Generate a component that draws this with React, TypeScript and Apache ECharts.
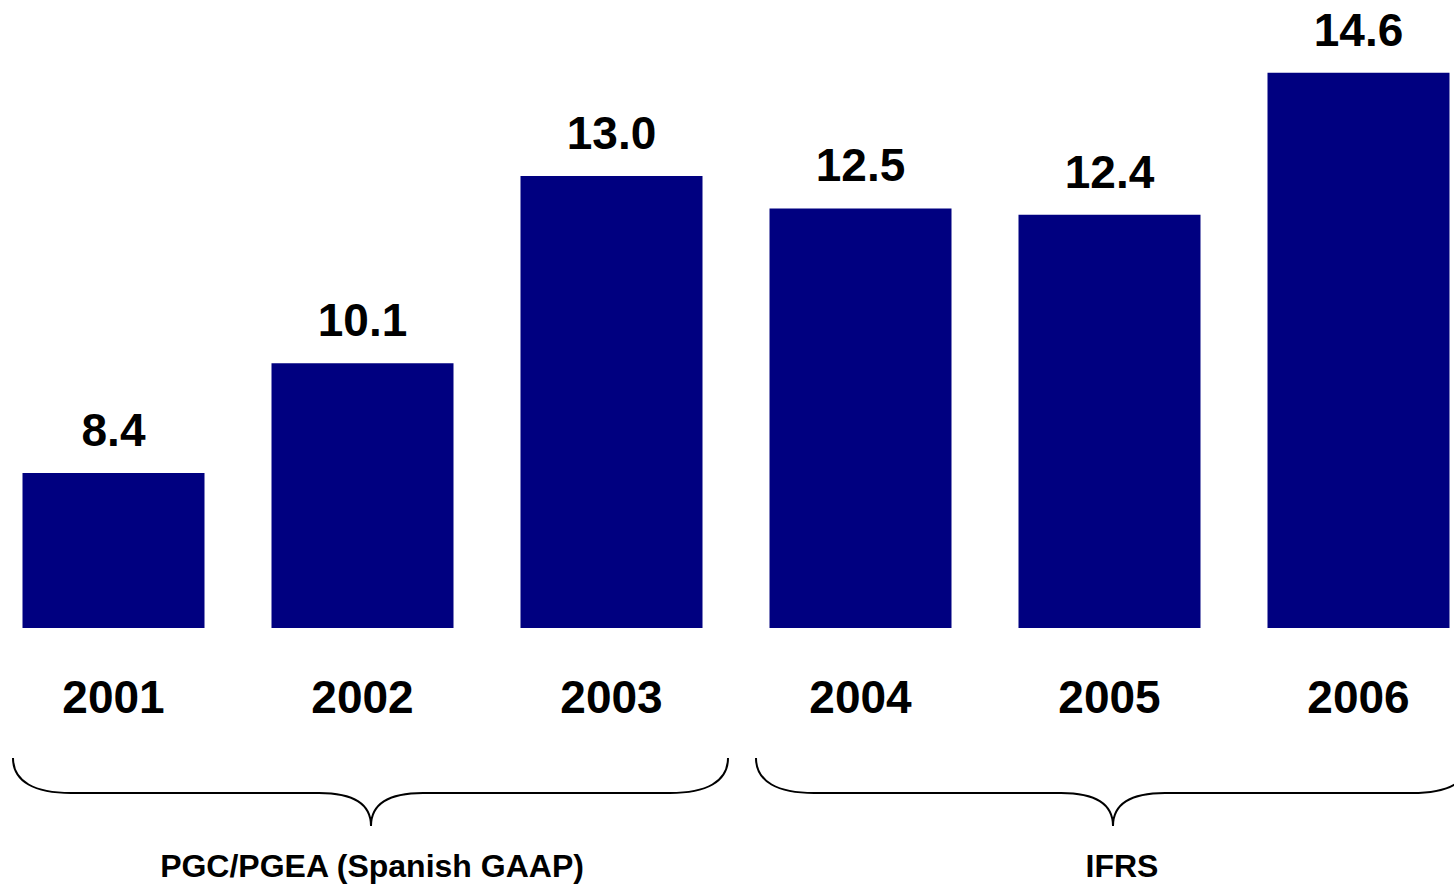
import React, { useEffect, useRef } from "react";
import * as echarts from "echarts";

const categories = ["2001", "2002", "2003", "2004", "2005", "2006"];
const values = [8.4, 10.1, 13.0, 12.5, 12.4, 14.6];
const groupLabels = ["PGC/PGEA (Spanish GAAP)", "IFRS"];

const FONT = "'Liberation Sans', Arial, sans-serif";
// the chart canvas starts 11px left of the page so the category band overflows like the original
const OFFSET = 11;

function bracePath(x0: number, x1: number, mid: number, yTop: number, yLine: number, yTip: number) {
  return (
    `M ${x0} ${yTop} C ${x0} ${yTop + 24} ${x0 + 22} ${yLine} ${x0 + 58} ${yLine} ` +
    `L ${mid - 52} ${yLine} C ${mid - 18} ${yLine} ${mid} ${yLine + 10} ${mid} ${yTip} ` +
    `C ${mid} ${yLine + 10} ${mid + 18} ${yLine} ${mid + 52} ${yLine} ` +
    `L ${x1 - 58} ${yLine} C ${x1 - 22} ${yLine} ${x1} ${yTop + 24} ${x1} ${yTop}`
  );
}

export default function App() {
  const ref = useRef<HTMLDivElement>(null);
  useEffect(() => {
    if (!ref.current) return;
    echarts.graphic.registerShape(
      "braceL",
      echarts.graphic.extendPath(bracePath(13, 728, 371, 758, 793, 826), {})
    );
    echarts.graphic.registerShape(
      "braceR",
      echarts.graphic.extendPath(bracePath(756, 1470, 1113, 758, 793, 826), {})
    );
    const chart = echarts.init(ref.current, null, { renderer: "svg" });
    chart.setOption({
      animation: false,
      backgroundColor: "#ffffff",
      grid: { left: 0, right: 0, top: 47, bottom: 257, containLabel: false },
      xAxis: {
        type: "category",
        data: categories,
        axisLine: { show: false },
        axisTick: { show: false },
        axisLabel: {
          color: "#000",
          fontFamily: FONT,
          fontWeight: "bold",
          fontSize: 46,
          margin: 46,
        },
      },
      yAxis: {
        type: "value",
        min: 6,
        max: 15,
        show: false,
        splitLine: { show: false },
      },
      series: [
        {
          type: "bar",
          data: values,
          barWidth: 182,
          itemStyle: { color: "#000080" },
          label: {
            show: true,
            position: "top",
            distance: 20,
            color: "#000",
            fontFamily: FONT,
            fontWeight: "bold",
            fontSize: 46,
            formatter: (p: any) => Number(p.value).toFixed(1),
          },
        },
      ],
      graphic: [
        {
          type: "braceL",
          x: OFFSET,
          y: 0,
          style: { stroke: "#000", lineWidth: 2, fill: "none" },
        },
        {
          type: "braceR",
          x: OFFSET,
          y: 0,
          style: { stroke: "#000", lineWidth: 2, fill: "none" },
        },
        {
          type: "text",
          x: 372 + OFFSET,
          y: 866,
          style: {
            text: groupLabels[0],
            fill: "#000",
            font: `bold 32px ${FONT}`,
            textAlign: "center",
            textVerticalAlign: "middle",
          },
        },
        {
          type: "text",
          x: 1122 + OFFSET,
          y: 866,
          style: {
            text: groupLabels[1],
            fill: "#000",
            font: `bold 32px ${FONT}`,
            textAlign: "center",
            textVerticalAlign: "middle",
          },
        },
      ],
    });
    return () => chart.dispose();
  }, []);
  return (
    <div style={{ position: "fixed", left: 0, top: 0, width: 1454, height: 885, overflow: "hidden" }}>
      <div
        ref={ref}
        style={{ position: "absolute", left: -OFFSET, top: 0, width: 1494, height: 885 }}
      />
    </div>
  );
}
